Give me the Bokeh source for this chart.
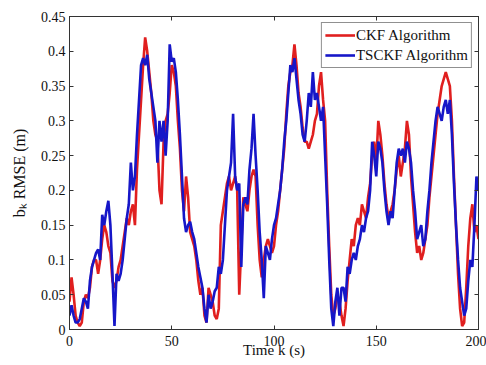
from bokeh.plotting import figure
from bokeh.models import LinearAxis, FixedTicker, Range1d
from bokeh.embed import file_html
from bokeh.resources import INLINE

# ---- data ----
time_k = list(range(0, 201))

ckf_rmse = [
    0.04, 0.075, 0.05, 0.02, 0.01, 0.005, 0.01, 0.04, 0.05, 0.045,
    0.06, 0.09, 0.1, 0.1, 0.08, 0.1, 0.13, 0.15, 0.14, 0.12,
    0.11, 0.07, 0.06, 0.07, 0.09, 0.1, 0.12, 0.14, 0.16, 0.15,
    0.17, 0.18, 0.15, 0.23, 0.28, 0.33, 0.38, 0.42, 0.4, 0.37,
    0.34, 0.3, 0.28, 0.27, 0.2, 0.18, 0.27, 0.3, 0.31, 0.34,
    0.38, 0.37, 0.35, 0.3, 0.26, 0.2, 0.17, 0.22, 0.19, 0.14,
    0.13, 0.12, 0.1, 0.07, 0.05, 0.06, 0.02, 0.01, 0.06, 0.05,
    0.04, 0.02, 0.015, 0.03, 0.15, 0.17, 0.19, 0.21, 0.22, 0.2,
    0.21, 0.22, 0.2, 0.05, 0.12, 0.19, 0.18, 0.17, 0.2, 0.22,
    0.23, 0.22, 0.15, 0.1, 0.075, 0.1, 0.12, 0.13, 0.12, 0.11,
    0.12, 0.15, 0.17, 0.2, 0.23, 0.26, 0.31, 0.35, 0.37, 0.38,
    0.41, 0.38, 0.34, 0.32, 0.29, 0.27, 0.27, 0.26, 0.27, 0.28,
    0.3, 0.31, 0.35, 0.37, 0.33, 0.3, 0.2, 0.12, 0.05, 0.02,
    0.03, 0.05, 0.04, 0.02, 0.005, 0.03, 0.07, 0.1, 0.13, 0.12,
    0.15, 0.16, 0.15, 0.18, 0.17, 0.16, 0.19, 0.21, 0.25, 0.27,
    0.24, 0.3, 0.28, 0.25, 0.21, 0.18, 0.16, 0.17, 0.18, 0.2,
    0.23, 0.25, 0.22, 0.24, 0.26, 0.3, 0.28, 0.22, 0.18, 0.14,
    0.11, 0.12, 0.1, 0.11, 0.13, 0.15, 0.19, 0.22, 0.25, 0.28,
    0.31, 0.33, 0.35, 0.36, 0.37, 0.36, 0.35, 0.3, 0.22, 0.15,
    0.08, 0.03, 0.005, 0.01, 0.06, 0.12, 0.16, 0.18, 0.14, 0.15,
    0.13,
]

tsckf_rmse = [
    0.02, 0.035, 0.02, 0.01, 0.01, 0.015, 0.03, 0.045, 0.04, 0.03,
    0.07, 0.09, 0.1, 0.11, 0.115, 0.1, 0.165, 0.15, 0.17, 0.185,
    0.15, 0.08, 0.005, 0.08, 0.07, 0.08, 0.1, 0.13, 0.16, 0.18,
    0.24, 0.2, 0.22, 0.28, 0.33, 0.38, 0.39, 0.38, 0.395, 0.36,
    0.34, 0.32, 0.3, 0.24, 0.3, 0.27, 0.3, 0.25, 0.3, 0.41,
    0.385, 0.39, 0.37, 0.33, 0.28, 0.22, 0.16, 0.14, 0.15, 0.155,
    0.14, 0.13, 0.11, 0.09, 0.075, 0.06, 0.03, 0.01, 0.05, 0.03,
    0.04, 0.055, 0.06, 0.09, 0.08, 0.1, 0.15, 0.2, 0.22, 0.24,
    0.31, 0.22, 0.2, 0.21, 0.09, 0.18, 0.19, 0.18, 0.23, 0.26,
    0.31, 0.25, 0.2, 0.14, 0.1, 0.045, 0.12, 0.11, 0.1, 0.13,
    0.15, 0.16, 0.18, 0.2, 0.23, 0.27, 0.3, 0.34, 0.38, 0.37,
    0.39, 0.36, 0.33, 0.31, 0.28, 0.27, 0.3, 0.34, 0.32, 0.37,
    0.33, 0.34, 0.32, 0.3, 0.32, 0.25, 0.18, 0.1, 0.03, 0.005,
    0.04, 0.06, 0.02, 0.06, 0.06, 0.04, 0.09, 0.08, 0.1, 0.11,
    0.1, 0.12, 0.13, 0.15, 0.14, 0.16, 0.17, 0.2, 0.27, 0.25,
    0.22, 0.27, 0.26, 0.24, 0.2, 0.17, 0.15, 0.17, 0.16, 0.2,
    0.24, 0.26, 0.25, 0.26, 0.24, 0.27, 0.26, 0.24, 0.2, 0.17,
    0.13, 0.14, 0.15, 0.12, 0.13, 0.17, 0.2, 0.24, 0.27, 0.3,
    0.32, 0.31, 0.3, 0.32, 0.33, 0.31, 0.33, 0.28, 0.21, 0.15,
    0.1, 0.06, 0.04, 0.02, 0.03, 0.07, 0.1, 0.09, 0.15, 0.22,
    0.2,
]

x_ticks = [0, 50, 100, 150, 200]
x_tick_labels = ["0", "50", "100", "150", "200"]
y_ticks = [0, 0.05, 0.1, 0.15, 0.2, 0.25, 0.3, 0.35, 0.4, 0.45]
y_tick_labels = ["0", "0.05", "0.1", "0.15", "0.2", "0.25", "0.3", "0.35", "0.4", "0.45"]

series_names = ["CKF Algorithm", "TSCKF Algorithm"]
x_label = "Time k (s)"
y_label = "b\u2096 RMSE (m)"

# ---- style ----
FONT = "Liberation Serif"
RED = "#e01f1f"
BLUE = "#1616c8"
AXC = "#333333"
TXT = "#111111"

p = figure(width=486, height=365, output_backend="svg", toolbar_location=None,
           x_range=Range1d(0, 200), y_range=Range1d(0, 0.45),
           min_border_left=69, min_border_right=8, min_border_top=16,
           min_border_bottom=36)
p.background_fill_color = "white"
p.border_fill_color = "white"
p.outline_line_color = AXC
p.xgrid.visible = False
p.ygrid.visible = False


def style_axis(ax, ticks, labels, show_labels=True):
    ax.ticker = FixedTicker(ticks=ticks)
    ax.major_label_overrides = {t: l for t, l in zip(ticks, labels)}
    ax.major_tick_in = 4
    ax.major_tick_out = 0
    ax.minor_tick_in = 0
    ax.minor_tick_out = 0
    ax.axis_line_color = AXC
    ax.major_tick_line_color = AXC
    ax.major_label_text_font = FONT
    ax.major_label_text_font_size = "14px"
    ax.major_label_standoff = 4
    ax.axis_label_text_font = FONT
    ax.axis_label_text_font_style = "normal"
    ax.axis_label_text_font_size = "15px"
    ax.axis_label_text_color = TXT
    if show_labels:
        ax.major_label_text_color = TXT
    else:
        ax.major_label_text_color = None
        ax.major_label_standoff = 0


style_axis(p.xaxis[0], x_ticks, x_tick_labels)
style_axis(p.yaxis[0], y_ticks, y_tick_labels)
p.xaxis[0].major_label_standoff = 6
p.xaxis[0].axis_label = x_label
p.xaxis[0].axis_label_standoff = -7
p.yaxis[0].axis_label = y_label
p.yaxis[0].axis_label_standoff = 10
p.yaxis[0].axis_label_text_font_size = "16px"

top_ax = LinearAxis()
style_axis(top_ax, x_ticks, x_tick_labels, show_labels=False)
p.add_layout(top_ax, "above")
right_ax = LinearAxis()
style_axis(right_ax, y_ticks, y_tick_labels, show_labels=False)
p.add_layout(right_ax, "right")

p.line(time_k, ckf_rmse, color=RED, line_width=2.6, legend_label=series_names[0])
p.line(time_k, tsckf_rmse, color=BLUE, line_width=2.6, legend_label=series_names[1])

lg = p.legend[0]
lg.location = "top_right"
lg.margin = 6
lg.padding = 3
lg.spacing = 2
lg.glyph_width = 30
lg.glyph_height = 18
lg.label_height = 18
lg.label_standoff = 1
lg.label_text_font = FONT
lg.label_text_font_size = "15px"
lg.label_text_color = TXT
lg.border_line_color = "#222222"
lg.border_line_width = 1
lg.background_fill_color = "white"
lg.background_fill_alpha = 1.0

open("out.html", "w").write(file_html(p, INLINE))
